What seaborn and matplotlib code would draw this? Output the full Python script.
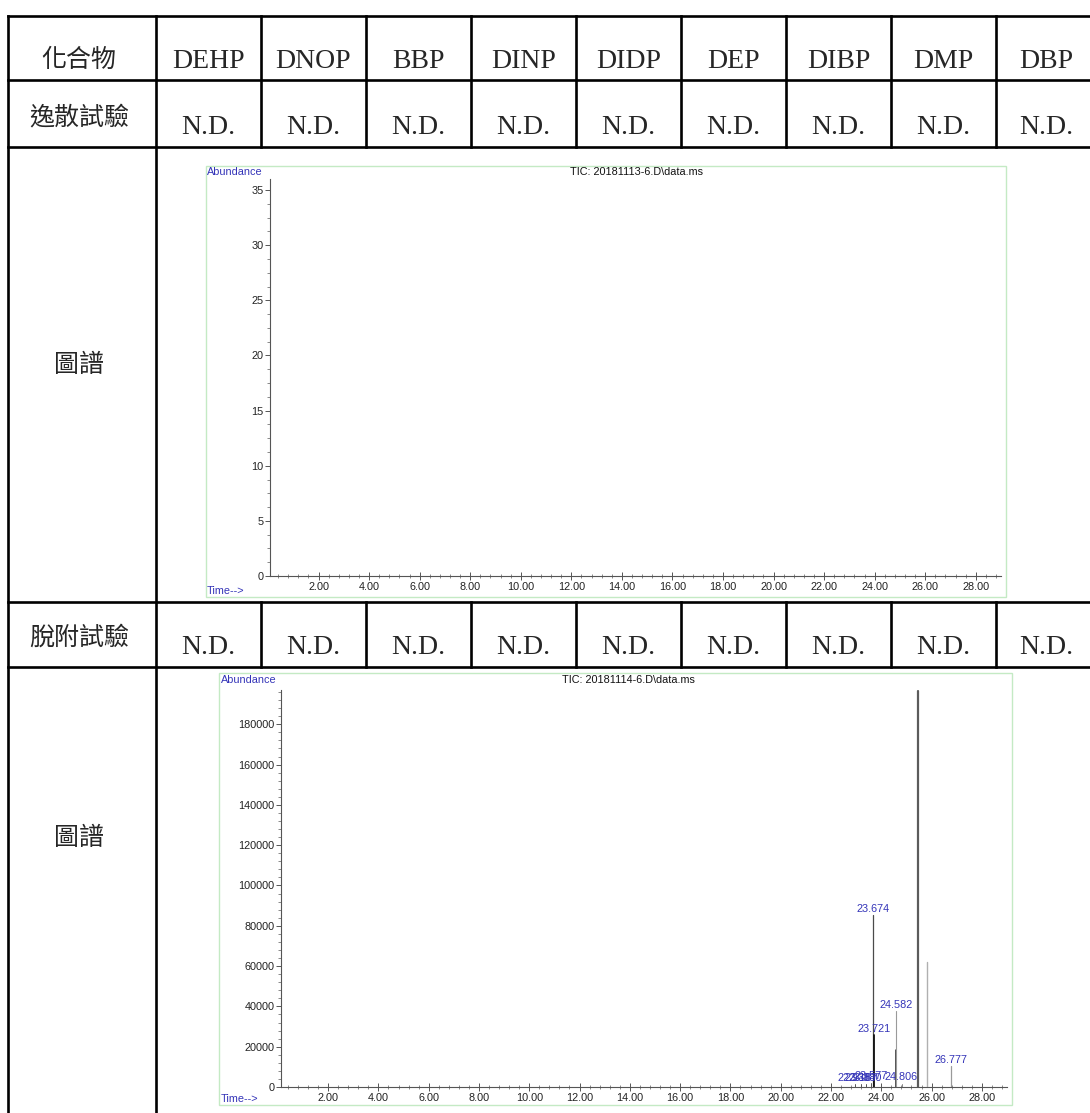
import numpy as np
import pandas as pd
import matplotlib
matplotlib.use("Agg")
import matplotlib.pyplot as plt
from matplotlib.lines import Line2D
from matplotlib.patches import Rectangle
from matplotlib.ticker import MultipleLocator, FixedLocator
import seaborn as sns

# ---------------- table content ----------------
compounds = ["DEHP", "DNOP", "BBP", "DINP", "DIDP", "DEP", "DIBP", "DMP", "DBP"]
row_header = "化合物"
emission_label = "逸散試驗"
desorption_label = "脫附試驗"
chart_label = "圖譜"
emission_results = ["N.D.", "N.D.", "N.D.", "N.D.", "N.D.", "N.D.", "N.D.", "N.D.", "N.D."]
desorption_results = ["N.D.", "N.D.", "N.D.", "N.D.", "N.D.", "N.D.", "N.D.", "N.D.", "N.D."]

# ---------------- chromatogram 1 (emission test, empty trace) ----------------
tic1_title = "TIC: 20181113-6.D\\data.ms"
tic1_yticks = [0, 5, 10, 15, 20, 25, 30, 35]
tic1_xticks = [2, 4, 6, 8, 10, 12, 14, 16, 18, 20, 22, 24, 26, 28]

# ---------------- chromatogram 2 (desorption test) ----------------
tic2_title = "TIC: 20181114-6.D\\data.ms"
tic2_yticks = [0, 20000, 40000, 60000, 80000, 100000, 120000, 140000, 160000, 180000]
tic2_xticks = [2, 4, 6, 8, 10, 12, 14, 16, 18, 20, 22, 24, 26, 28]

peak_times = [22.938, 23.187, 23.380, 23.577, 23.674, 23.721, 24.575, 24.582, 24.806, 25.470, 25.820, 26.777]
peak_heights = [1300, 1400, 1600, 2200, 85400, 25800, 18400, 37700, 1700, 196500, 62000, 10400]
peak_labels = ["22.938", "23.187", "23.380", "23.577", "23.674", "23.721", "", "24.582", "24.806", "", "", "26.777"]
peak_colors = ["#555555", "#555555", "#555555", "#555555", "#4a4a4a", "#111111", "#222222",
               "#9a9a9a", "#888888", "#5c5c5c", "#b0b0b0", "#9a9a9a"]
peak_widths = [0.7, 0.7, 0.7, 0.7, 0.9, 1.3, 1.1, 0.8, 0.7, 1.6, 1.0, 0.9]

W, H = 1090, 1113
fig = plt.figure(figsize=(W / 100, H / 100), dpi=100)

sns.set_theme(style="white")
plt.rcParams["font.family"] = ["Liberation Sans", "DejaVu Sans"]
plt.rcParams["axes.unicode_minus"] = False


def fx(x):
    return x / W


def fy(y):
    return 1 - y / H


def hline(x0, x1, y, lw=1.9):
    fig.add_artist(Line2D([fx(x0), fx(x1)], [fy(y), fy(y)], transform=fig.transFigure,
                          color="black", lw=lw, solid_capstyle="projecting"))


def vline(x, y0, y1, lw=1.9):
    fig.add_artist(Line2D([fx(x), fx(x)], [fy(y0), fy(y1)], transform=fig.transFigure,
                          color="black", lw=lw, solid_capstyle="projecting"))


# ---------------- table grid ----------------
col_edges = [8, 156, 261, 366, 471, 576, 681, 786, 891, 996, 1096]
row_edges = [16, 80, 147, 602, 667, 1113]

for y in row_edges[:-1]:
    hline(col_edges[0], W, y)
vline(col_edges[0], row_edges[0], H)
vline(col_edges[1], row_edges[0], H)
for x in col_edges[2:-1]:
    vline(x, row_edges[0], row_edges[2])
    vline(x, row_edges[3], row_edges[4])

cjk = ["Noto Sans CJK TC", "DejaVu Sans"]
serif = ["Liberation Serif", "DejaVu Serif"]
c0 = (col_edges[0] + col_edges[1]) / 2 - 3

fig.text(fx(c0), fy(59.5), row_header, fontsize=18, family=cjk, ha="center", va="center")
fig.text(fx(c0), fy(117.5), emission_label, fontsize=18, family=cjk, ha="center", va="center")
fig.text(fx(c0), fy(365), chart_label, fontsize=18, family=cjk, ha="center", va="center")
fig.text(fx(c0), fy(637.5), desorption_label, fontsize=18, family=cjk, ha="center", va="center")
fig.text(fx(c0), fy(838), chart_label, fontsize=18, family=cjk, ha="center", va="center")

for i, name in enumerate(compounds):
    cx = (col_edges[i + 1] + col_edges[i + 2]) / 2
    fig.text(fx(cx), fy(68), name, fontsize=20, family=serif, ha="center", va="baseline")
    fig.text(fx(cx), fy(134), emission_results[i], fontsize=20, family=serif, ha="center", va="baseline")
    fig.text(fx(cx), fy(654), desorption_results[i], fontsize=20, family=serif, ha="center", va="baseline")

# ---------------- chromatogram styling helpers ----------------
blue = "#3434b8"
tick_fs = 7.8


def frame(x0, y0, x1, y1):
    fig.add_artist(Rectangle((fx(x0), fy(y1)), (x1 - x0) / W, (y1 - y0) / H,
                             transform=fig.transFigure, fill=False,
                             edgecolor="#c4eac4", lw=1.0))


def style_axes(ax, xlim, ylim, yticks, xticks, yminor, fmt_y):
    ax.set_facecolor("none")
    ax.set_xlim(*xlim)
    ax.set_ylim(*ylim)
    sns.despine(ax=ax)
    for s in ("left", "bottom"):
        ax.spines[s].set_color("#555555")
        ax.spines[s].set_linewidth(0.8)
    ax.yaxis.set_major_locator(FixedLocator(yticks))
    ax.yaxis.set_minor_locator(MultipleLocator(yminor))
    ax.xaxis.set_major_locator(FixedLocator(xticks))
    ax.xaxis.set_minor_locator(MultipleLocator(0.4))
    ax.set_yticklabels([fmt_y(v) for v in yticks])
    ax.set_xticklabels([f"{v:.2f}" for v in xticks])
    ax.tick_params(axis="y", which="major", direction="out", length=3.5, width=0.7,
                   color="#555555", labelsize=tick_fs, labelcolor="#222222", pad=1, left=True)
    ax.tick_params(axis="y", which="minor", direction="out", length=2, width=0.6,
                   color="#777777", left=True)
    ax.tick_params(axis="x", which="major", direction="inout", length=6, width=0.7,
                   color="#555555", labelsize=tick_fs, labelcolor="#222222", pad=1, bottom=True)
    ax.tick_params(axis="x", which="minor", direction="inout", length=3.5, width=0.6,
                   color="#777777", bottom=True)
    ax.set_xlabel("")
    ax.set_ylabel("")
    ax.grid(False)


# ---------------- chromatogram 1 ----------------
frame(206, 166, 1006, 597)
ax1 = fig.add_axes([fx(270), fy(576), (1001 - 270) / W, (576 - 179) / H])
style_axes(ax1, (0.08, 29.0), (0, 36), tic1_yticks, tic1_xticks, 1.25, lambda v: f"{v:d}")
fig.text(fx(207), fy(172), "Abundance", fontsize=7.8, color=blue, ha="left", va="center")
fig.text(fx(637), fy(172), tic1_title, fontsize=7.8, color="#111111", ha="center", va="center")
fig.text(fx(207), fy(591), "Time-->", fontsize=7.8, color=blue, ha="left", va="center")

# ---------------- chromatogram 2 ----------------
frame(219, 673, 1012, 1105)
ax2 = fig.add_axes([fx(281), fy(1087), (1007 - 281) / W, (1087 - 690) / H])

ids = [f"p{i}" for i in range(len(peak_times))]
trace = pd.DataFrame({
    "time": [t for t in peak_times for _ in range(2)],
    "abundance": [v for h in peak_heights for v in (0, h)],
    "peak": [p for p in ids for _ in range(2)],
})
sns.lineplot(data=trace, x="time", y="abundance", units="peak", estimator=None,
             hue="peak", palette=dict(zip(ids, peak_colors)),
             size="peak", sizes=dict(zip(ids, peak_widths)),
             sort=False, legend=False, ax=ax2)
style_axes(ax2, (0.127, 29.0), (0, 197000), tic2_yticks, tic2_xticks, 4000, lambda v: f"{v:d}")

for t, h, lab in zip(peak_times, peak_heights, peak_labels):
    if lab:
        ax2.text(t, h + 600, lab, fontsize=7.8, color=blue, ha="center", va="bottom")

fig.text(fx(221), fy(680), "Abundance", fontsize=7.8, color=blue, ha="left", va="center")
fig.text(fx(628), fy(680), tic2_title, fontsize=7.8, color="#111111", ha="center", va="center")
fig.text(fx(221), fy(1099), "Time-->", fontsize=7.8, color=blue, ha="left", va="center")

fig.savefig("out.png", dpi=100)
